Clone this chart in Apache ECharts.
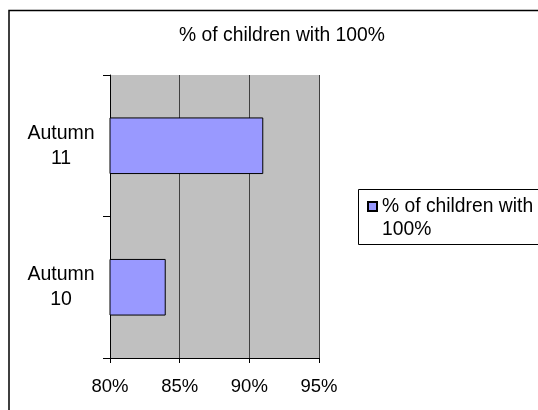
<!DOCTYPE html>
<html>
<head>
<meta charset="utf-8">
<script src="https://cdn.jsdelivr.net/npm/echarts@6/dist/echarts.min.js"></script>
<style>html,body{margin:0;padding:0;background:#fff;}#c{width:538px;height:410px;}</style>
</head>
<body>
<div id="c"></div>
<script>
var categories = ['Autumn\n10', 'Autumn\n11'];
var values = [84, 91];
var seriesName = '% of children with 100%';
var xMin = 80, xMax = 95, xStep = 5;
var titleText = '% of children with 100%';

var FONT = "'Liberation Sans', Arial, sans-serif";
var chart = echarts.init(document.getElementById('c'), null, {renderer: 'canvas'});
chart.setOption({
  backgroundColor: '#ffffff',
  animation: false,
  title: {
    text: titleText,
    left: 277, top: 21, textAlign: 'center',
    textStyle: {fontFamily: FONT, fontSize: 19.3, fontWeight: 'normal', color: '#000'}
  },
  grid: {
    left: 110, right: 219, top: 75, bottom: 52,
    show: true, backgroundColor: '#c0c0c0', borderWidth: 0
  },
  xAxis: {
    type: 'value', min: xMin, max: xMax, interval: xStep,
    axisLine: {show: true, lineStyle: {color: '#000', width: 1}},
    axisTick: {show: true, length: 5, lineStyle: {color: '#000'}},
    axisLabel: {formatter: '{value}%', fontFamily: FONT, fontSize: 18.5, color: '#000', margin: 19},
    splitLine: {show: true, lineStyle: {color: '#404040', width: 1}}
  },
  yAxis: {
    type: 'category', data: categories,
    axisLine: {show: true, lineStyle: {color: '#000', width: 1}},
    axisTick: {show: true, length: 7, lineStyle: {color: '#000'}},
    axisLabel: {fontFamily: FONT, fontSize: 19.5, color: '#000', align: 'center', margin: 49, lineHeight: 25}
  },
  legend: {
    show: true, left: 362, top: 192,
    itemWidth: 9, itemHeight: 9, itemGap: 6,
    icon: 'rect',
    formatter: function () { return '% of children with'; },
    textStyle: {fontFamily: FONT, fontSize: 19.3, color: '#000'},
    data: [seriesName]
  },
  graphic: [
    {type: 'rect', shape: {x: 9, y: 10.5, width: 700, height: 600}, style: {fill: 'none', stroke: '#000', lineWidth: 1.5}, silent: true},
    {type: 'rect', shape: {x: 358.5, y: 189.5, width: 300, height: 55}, style: {fill: 'none', stroke: '#000', lineWidth: 1}, silent: true, z: -1},
    {type: 'text', left: 382, top: 220, style: {text: '100%', font: "19.3px 'Liberation Sans', Arial, sans-serif", fill: '#000'}}
  ],
  series: [{
    name: seriesName,
    type: 'bar',
    data: values,
    barCategoryGap: '60%',
    itemStyle: {color: '#9999ff', borderColor: '#000', borderWidth: 1}
  }]
});
</script>
</body>
</html>
